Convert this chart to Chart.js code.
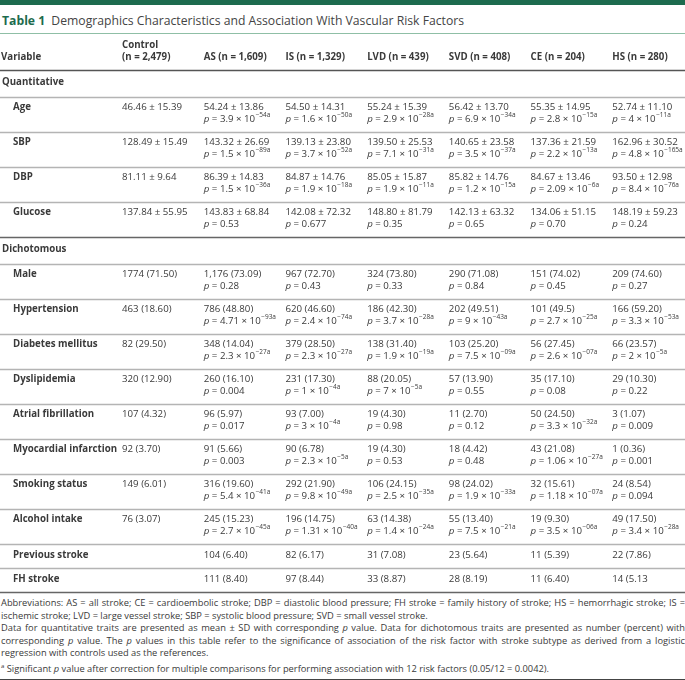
<!DOCTYPE html>
<html>
<head>
<meta charset="utf-8">
<script src="https://cdn.jsdelivr.net/npm/chart.js@4.4.1/dist/chart.umd.min.js"></script>
<style>
  body { margin: 0; width: 685px; height: 680px; overflow: hidden; background: #fff; font-family: "Open Sans", sans-serif; color: #333; }
  #topbar { height: 5px; background: #1d6b4e; }
  #title { height: 28px; line-height: 32px; font-size: 12.2px; color: #444; padding-left: 2px; border-bottom: 1px solid #8fbfa6; white-space: nowrap; }
  #title b { color: #1d6b4e; margin-right: 3px; }
  #wrap { position: relative; width: 685px; height: 560px; }
  #notes { font-size: 9.3px; line-height: 12.5px; color: #3a3a3a; padding: 3px 0 4px 1px; border-bottom: 2px solid #444; }
  #notes div { white-space: nowrap; }
  #notes .j { text-align: justify; text-align-last: justify; }
  #notes sup { font-size: 6px; }
</style>
</head>
<body>
<div id="topbar"></div>
<div id="title"><b>Table 1</b> Demographics Characteristics and Association With Vascular Risk Factors</div>
<div id="wrap"><canvas id="table"></canvas></div>
<div id="notes">
  <div class="j">Abbreviations: AS = all stroke; CE = cardioembolic stroke; DBP = diastolic blood pressure; FH stroke = family history of stroke; HS = hemorrhagic stroke; IS =</div>
  <div>ischemic stroke; LVD = large vessel stroke; SBP = systolic blood pressure; SVD = small vessel stroke.</div>
  <div class="j">Data for quantitative traits are presented as mean ± SD with corresponding <i>p</i> value. Data for dichotomous traits are presented as number (percent) with</div>
  <div class="j">corresponding <i>p</i> value. The <i>p</i> values in this table refer to the significance of association of the risk factor with stroke subtype as derived from a logistic</div>
  <div>regression with controls used as the references.</div>
  <div><sup>a</sup> Significant <i>p</i> value after correction for multiple comparisons for performing association with 12 risk factors (0.05/12 = 0.0042).</div>
</div>
<script>
// column groups
const groups = ['Control', 'AS', 'IS', 'LVD', 'SVD', 'CE', 'HS'];
const groupN = ['2,479', '1,609', '1,329', '439', '408', '204', '280'];

// quantitative traits: mean ± SD, p value vs control
const quantVars = ['Age', 'SBP', 'DBP', 'Glucose'];
const quantValues = [
    ['46.46 ± 15.39', '54.24 ± 13.86', '54.50 ± 14.31', '55.24 ± 15.39', '56.42 ± 13.70', '55.35 ± 14.95', '52.74 ± 11.10'],
    ['128.49 ± 15.49', '143.32 ± 26.69', '139.13 ± 23.80', '139.50 ± 25.53', '140.65 ± 23.58', '137.36 ± 21.59', '162.96 ± 30.52'],
    ['81.11 ± 9.64', '86.39 ± 14.83', '84.87 ± 14.76', '85.05 ± 15.87', '85.82 ± 14.76', '84.67 ± 13.46', '93.50 ± 12.98'],
    ['137.84 ± 55.95', '143.83 ± 68.84', '142.08 ± 72.32', '148.80 ± 81.79', '142.13 ± 63.32', '134.06 ± 51.15', '148.19 ± 59.23']
];
const quantP = [
    [null, '3.9e-54a', '1.6e-50a', '2.9e-28a', '6.9e-34a', '2.8e-15a', '4e-11a'],
    [null, '1.5e-89a', '3.7e-52a', '7.1e-31a', '3.5e-37a', '2.2e-13a', '4.8e-165a'],
    [null, '1.5e-36a', '1.9e-18a', '1.9e-11a', '1.2e-15a', '2.09e-6a', '8.4e-76a'],
    [null, '0.53', '0.677', '0.35', '0.65', '0.70', '0.24']
];

// dichotomous traits: number (percent), p value vs control
const dichVars = ['Male', 'Hypertension', 'Diabetes mellitus', 'Dyslipidemia', 'Atrial fibrillation',
    'Myocardial infarction', 'Smoking status', 'Alcohol intake', 'Previous stroke', 'FH stroke'];
const dichValues = [
    ['1774 (71.50)', '1,176 (73.09)', '967 (72.70)', '324 (73.80)', '290 (71.08)', '151 (74.02)', '209 (74.60)'],
    ['463 (18.60)', '786 (48.80)', '620 (46.60)', '186 (42.30)', '202 (49.51)', '101 (49.5)', '166 (59.20)'],
    ['82 (29.50)', '348 (14.04)', '379 (28.50)', '138 (31.40)', '103 (25.20)', '56 (27.45)', '66 (23.57)'],
    ['320 (12.90)', '260 (16.10)', '231 (17.30)', '88 (20.05)', '57 (13.90)', '35 (17.10)', '29 (10.30)'],
    ['107 (4.32)', '96 (5.97)', '93 (7.00)', '19 (4.30)', '11 (2.70)', '50 (24.50)', '3 (1.07)'],
    ['92 (3.70)', '91 (5.66)', '90 (6.78)', '19 (4.30)', '18 (4.42)', '43 (21.08)', '1 (0.36)'],
    ['149 (6.01)', '316 (19.60)', '292 (21.90)', '106 (24.15)', '98 (24.02)', '32 (15.61)', '24 (8.54)'],
    ['76 (3.07)', '245 (15.23)', '196 (14.75)', '63 (14.38)', '55 (13.40)', '19 (9.30)', '49 (17.50)'],
    ['', '104 (6.40)', '82 (6.17)', '31 (7.08)', '23 (5.64)', '11 (5.39)', '22 (7.86)'],
    ['', '111 (8.40)', '97 (8.44)', '33 (8.87)', '28 (8.19)', '11 (6.40)', '14 (5.13']
];
const dichP = [
    [null, '0.28', '0.43', '0.33', '0.84', '0.45', '0.27'],
    [null, '4.71e-93a', '2.4e-74a', '3.7e-28a', '9e-43a', '2.7e-25a', '3.3e-53a'],
    [null, '2.3e-27a', '2.3e-27a', '1.9e-19a', '7.5e-09a', '2.6e-07a', '2e-5a'],
    [null, '0.004', '1e-4a', '7e-5a', '0.55', '0.08', '0.22'],
    [null, '0.017', '3e-4a', '0.98', '0.12', '3.3e-32a', '0.009'],
    [null, '0.003', '2.3e-5a', '0.53', '0.48', '1.06e-27a', '0.001'],
    [null, '5.4e-41a', '9.8e-49a', '2.5e-35a', '1.9e-33a', '1.18e-07a', '0.094'],
    [null, '2.7e-45a', '1.31e-40a', '1.4e-24a', '7.5e-21a', '3.5e-06a', '3.4e-28a'],
    null,
    null
];

// layout (px per row kind)
const rowHeight = { section: 27, pair: 35, single: 24 };
const FONT = '"Open Sans", sans-serif';
const SIZE = 9.7;
const TEXT = '#3a3a3a';

// build row list
const rows = [];
rows.push({ kind: 'section', label: 'Quantitative' });
quantVars.forEach((v, i) => rows.push({ kind: 'pair', label: v, values: quantValues[i], p: quantP[i] }));
rows.push({ kind: 'section', label: 'Dichotomous' });
dichVars.forEach((v, i) => rows.push({ kind: dichP[i] ? 'pair' : 'single', label: v, values: dichValues[i], p: dichP[i] }));

let acc = 0;
rows.forEach(r => {
    r.top = acc;
    acc += rowHeight[r.kind];
    r.bottom = acc;
    r.center = (r.top + r.bottom) / 2;
});
const totalHeight = acc;

function splitP(s) {
    const m = s.match(/^([\d.]+)e(-?\d+)(a?)$/);
    if (!m) return { base: s };
    return { base: m[1] + ' × 10', sup: m[2].replace('-', '−') + m[3] };
}

function drawP(ctx, s, x, y) {
    const parts = splitP(s);
    ctx.font = `italic ${SIZE}px ${FONT}`;
    ctx.fillText('p', x, y);
    x += ctx.measureText('p').width;
    ctx.font = `${SIZE}px ${FONT}`;
    const t = ' = ' + parts.base;
    ctx.fillText(t, x, y);
    x += ctx.measureText(t).width;
    if (parts.sup) {
        ctx.font = `6.5px ${FONT}`;
        ctx.fillText(parts.sup, x + 0.5, y - 3.5);
    }
}

const tablePlugin = {
    id: 'tableText',
    afterDatasetsDraw(chart) {
        const ctx = chart.ctx;
        const y = chart.scales.y;
        const top = chart.chartArea.top;
        const W = chart.width;
        ctx.save();
        ctx.textBaseline = 'middle';
        ctx.textAlign = 'left';
        ctx.fillStyle = TEXT;

        // header label of first column
        ctx.font = `bold ${SIZE}px ${FONT}`;
        ctx.fillText('Variable', 1, top - 13);

        // rules
        const rule = (py, color, w) => {
            ctx.strokeStyle = color;
            ctx.lineWidth = w;
            ctx.beginPath();
            ctx.moveTo(0, py);
            ctx.lineTo(W, py);
            ctx.stroke();
        };
        rule(top + 0.5, '#555', 1.3);
        rows.forEach((r, i) => {
            const next = rows[i + 1];
            const dark = !next || next.kind === 'section';
            rule(Math.round(y.getPixelForValue(r.bottom)) + 0.5, dark ? '#666' : '#b4b4b4', dark ? 1.3 : 1.5);
        });

        // row labels
        ctx.fillStyle = TEXT;
        rows.forEach(r => {
            const cy = y.getPixelForValue(r.center);
            ctx.font = `bold ${SIZE}px ${FONT}`;
            if (r.kind === 'section') ctx.fillText(r.label, 2, cy - 1);
            else ctx.fillText(r.label, 13, r.kind === 'pair' ? cy - 7.5 : cy - 1);
        });

        // cells, placed at each point's position
        chart.data.datasets.forEach((ds, c) => {
            const meta = chart.getDatasetMeta(c);
            meta.data.forEach((el, k) => {
                const r = rows[ds.data[k].row];
                const x = el.x;
                const cy = el.y;
                ctx.font = `${SIZE}px ${FONT}`;
                if (r.kind === 'pair') {
                    ctx.fillText(r.values[c], x, cy - 7.5);
                    if (r.p[c]) drawP(ctx, r.p[c], x, cy + 4.5);
                } else {
                    ctx.fillText(r.values[c], x, cy - 1);
                }
            });
        });
        ctx.restore();
    }
};

const headerLabels = groups.map((g, i) => i === 0 ? [g, `(n = ${groupN[i]})`] : `${g} (n = ${groupN[i]})`);

const datasets = groups.map((g, c) => ({
    label: g,
    data: rows.map((r, ri) => ({ x: c, y: r.center, row: ri })).filter(d => rows[d.row].kind !== 'section'),
    pointRadius: 0,
    pointHoverRadius: 0,
    showLine: false
}));

new Chart(document.getElementById('table'), {
    type: 'scatter',
    data: { datasets },
    options: {
        responsive: true,
        maintainAspectRatio: false,
        animation: false,
        events: [],
        layout: { padding: { left: 122, right: 0, top: 0, bottom: 2 } },
        plugins: { legend: { display: false }, tooltip: { enabled: false } },
        scales: {
            x: {
                type: 'linear',
                position: 'top',
                min: 0,
                max: 6.89,
                grid: { display: true, color: 'rgba(0,0,0,0)', drawTicks: true, tickLength: 7 },
                border: { display: false },
                afterFit: s => { s.height = 36; },
                ticks: {
                    stepSize: 1,
                    autoSkip: false,
                    maxRotation: 0,
                    align: 'start',
                    padding: 0,
                    color: TEXT,
                    font: { family: FONT, size: SIZE, weight: 'bold', lineHeight: 1.237 },
                    callback: (v, i) => headerLabels[i] || ''
                }
            },
            y: {
                type: 'linear',
                reverse: true,
                min: 0,
                max: totalHeight,
                display: false
            }
        }
    },
    plugins: [tablePlugin]
});
</script>
</body>
</html>
